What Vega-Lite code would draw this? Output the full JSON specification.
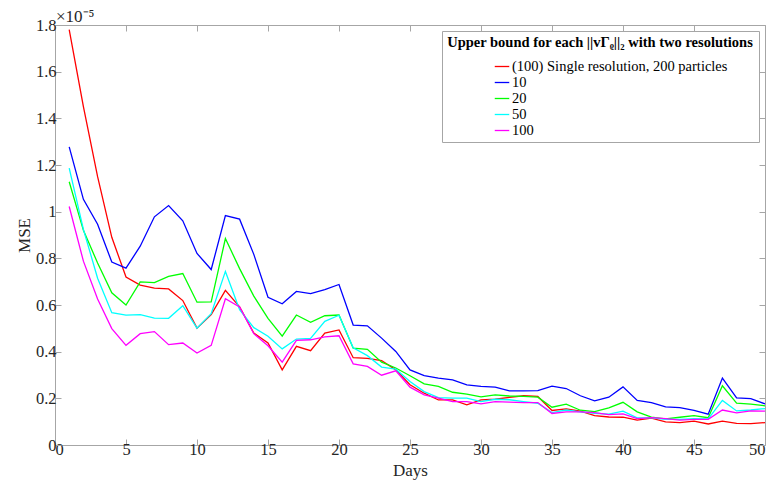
{
  "$schema": "https://vega.github.io/schema/vega-lite/v6.json",
  "width": 710,
  "height": 420,
  "autosize": "none",
  "padding": {"left": 55, "top": 25, "right": 9, "bottom": 42},
  "config": {
    "font": "Liberation Serif",
    "view": {"stroke": "#a6a6a6", "strokeWidth": 1},
    "axis": {
      "grid": false,
      "domainColor": "#a6a6a6",
      "tickColor": "#a6a6a6",
      "labelColor": "#262626",
      "titleColor": "#262626",
      "labelFont": "Liberation Serif",
      "titleFont": "Liberation Serif",
      "labelFontSize": 16,
      "titleFontSize": 16,
      "titleFontWeight": "normal",
      "tickSize": -6
    }
  },
  "title": {"text": "×10⁻⁵", "anchor": "start", "frame": "group", "fontSize": 17, "fontWeight": "normal", "font": "Liberation Serif", "color": "#262626", "offset": -9, "dx": 1},
  "data": {"values": [
    {"day":1,"series":"(100) Single resolution, 200 particles","mse":1.78e-5},
    {"day":2,"series":"(100) Single resolution, 200 particles","mse":1.45e-5},
    {"day":3,"series":"(100) Single resolution, 200 particles","mse":1.15e-5},
    {"day":4,"series":"(100) Single resolution, 200 particles","mse":0.89e-5},
    {"day":5,"series":"(100) Single resolution, 200 particles","mse":0.72e-5},
    {"day":6,"series":"(100) Single resolution, 200 particles","mse":0.685e-5},
    {"day":7,"series":"(100) Single resolution, 200 particles","mse":0.672e-5},
    {"day":8,"series":"(100) Single resolution, 200 particles","mse":0.669e-5},
    {"day":9,"series":"(100) Single resolution, 200 particles","mse":0.619e-5},
    {"day":10,"series":"(100) Single resolution, 200 particles","mse":0.501e-5},
    {"day":11,"series":"(100) Single resolution, 200 particles","mse":0.559e-5},
    {"day":12,"series":"(100) Single resolution, 200 particles","mse":0.663e-5},
    {"day":13,"series":"(100) Single resolution, 200 particles","mse":0.592e-5},
    {"day":14,"series":"(100) Single resolution, 200 particles","mse":0.48e-5},
    {"day":15,"series":"(100) Single resolution, 200 particles","mse":0.437e-5},
    {"day":16,"series":"(100) Single resolution, 200 particles","mse":0.322e-5},
    {"day":17,"series":"(100) Single resolution, 200 particles","mse":0.423e-5},
    {"day":18,"series":"(100) Single resolution, 200 particles","mse":0.404e-5},
    {"day":19,"series":"(100) Single resolution, 200 particles","mse":0.48e-5},
    {"day":20,"series":"(100) Single resolution, 200 particles","mse":0.493e-5},
    {"day":21,"series":"(100) Single resolution, 200 particles","mse":0.374e-5},
    {"day":22,"series":"(100) Single resolution, 200 particles","mse":0.371e-5},
    {"day":23,"series":"(100) Single resolution, 200 particles","mse":0.362e-5},
    {"day":24,"series":"(100) Single resolution, 200 particles","mse":0.322e-5},
    {"day":25,"series":"(100) Single resolution, 200 particles","mse":0.258e-5},
    {"day":26,"series":"(100) Single resolution, 200 particles","mse":0.222e-5},
    {"day":27,"series":"(100) Single resolution, 200 particles","mse":0.193e-5},
    {"day":28,"series":"(100) Single resolution, 200 particles","mse":0.193e-5},
    {"day":29,"series":"(100) Single resolution, 200 particles","mse":0.172e-5},
    {"day":30,"series":"(100) Single resolution, 200 particles","mse":0.193e-5},
    {"day":31,"series":"(100) Single resolution, 200 particles","mse":0.196e-5},
    {"day":32,"series":"(100) Single resolution, 200 particles","mse":0.204e-5},
    {"day":33,"series":"(100) Single resolution, 200 particles","mse":0.211e-5},
    {"day":34,"series":"(100) Single resolution, 200 particles","mse":0.208e-5},
    {"day":35,"series":"(100) Single resolution, 200 particles","mse":0.148e-5},
    {"day":36,"series":"(100) Single resolution, 200 particles","mse":0.155e-5},
    {"day":37,"series":"(100) Single resolution, 200 particles","mse":0.145e-5},
    {"day":38,"series":"(100) Single resolution, 200 particles","mse":0.126e-5},
    {"day":39,"series":"(100) Single resolution, 200 particles","mse":0.12e-5},
    {"day":40,"series":"(100) Single resolution, 200 particles","mse":0.119e-5},
    {"day":41,"series":"(100) Single resolution, 200 particles","mse":0.107e-5},
    {"day":42,"series":"(100) Single resolution, 200 particles","mse":0.115e-5},
    {"day":43,"series":"(100) Single resolution, 200 particles","mse":0.099e-5},
    {"day":44,"series":"(100) Single resolution, 200 particles","mse":0.096e-5},
    {"day":45,"series":"(100) Single resolution, 200 particles","mse":0.102e-5},
    {"day":46,"series":"(100) Single resolution, 200 particles","mse":0.09e-5},
    {"day":47,"series":"(100) Single resolution, 200 particles","mse":0.102e-5},
    {"day":48,"series":"(100) Single resolution, 200 particles","mse":0.093e-5},
    {"day":49,"series":"(100) Single resolution, 200 particles","mse":0.092e-5},
    {"day":50,"series":"(100) Single resolution, 200 particles","mse":0.096e-5},
    {"day":1,"series":"10","mse":1.278e-5},
    {"day":2,"series":"10","mse":1.053e-5},
    {"day":3,"series":"10","mse":0.946e-5},
    {"day":4,"series":"10","mse":0.784e-5},
    {"day":5,"series":"10","mse":0.758e-5},
    {"day":6,"series":"10","mse":0.852e-5},
    {"day":7,"series":"10","mse":0.978e-5},
    {"day":8,"series":"10","mse":1.026e-5},
    {"day":9,"series":"10","mse":0.961e-5},
    {"day":10,"series":"10","mse":0.821e-5},
    {"day":11,"series":"10","mse":0.752e-5},
    {"day":12,"series":"10","mse":0.983e-5},
    {"day":13,"series":"10","mse":0.968e-5},
    {"day":14,"series":"10","mse":0.817e-5},
    {"day":15,"series":"10","mse":0.633e-5},
    {"day":16,"series":"10","mse":0.605e-5},
    {"day":17,"series":"10","mse":0.658e-5},
    {"day":18,"series":"10","mse":0.649e-5},
    {"day":19,"series":"10","mse":0.666e-5},
    {"day":20,"series":"10","mse":0.688e-5},
    {"day":21,"series":"10","mse":0.514e-5},
    {"day":22,"series":"10","mse":0.511e-5},
    {"day":23,"series":"10","mse":0.458e-5},
    {"day":24,"series":"10","mse":0.401e-5},
    {"day":25,"series":"10","mse":0.322e-5},
    {"day":26,"series":"10","mse":0.297e-5},
    {"day":27,"series":"10","mse":0.287e-5},
    {"day":28,"series":"10","mse":0.279e-5},
    {"day":29,"series":"10","mse":0.258e-5},
    {"day":30,"series":"10","mse":0.251e-5},
    {"day":31,"series":"10","mse":0.248e-5},
    {"day":32,"series":"10","mse":0.232e-5},
    {"day":33,"series":"10","mse":0.232e-5},
    {"day":34,"series":"10","mse":0.233e-5},
    {"day":35,"series":"10","mse":0.252e-5},
    {"day":36,"series":"10","mse":0.242e-5},
    {"day":37,"series":"10","mse":0.211e-5},
    {"day":38,"series":"10","mse":0.189e-5},
    {"day":39,"series":"10","mse":0.205e-5},
    {"day":40,"series":"10","mse":0.249e-5},
    {"day":41,"series":"10","mse":0.191e-5},
    {"day":42,"series":"10","mse":0.182e-5},
    {"day":43,"series":"10","mse":0.163e-5},
    {"day":44,"series":"10","mse":0.16e-5},
    {"day":45,"series":"10","mse":0.148e-5},
    {"day":46,"series":"10","mse":0.132e-5},
    {"day":47,"series":"10","mse":0.287e-5},
    {"day":48,"series":"10","mse":0.202e-5},
    {"day":49,"series":"10","mse":0.199e-5},
    {"day":50,"series":"10","mse":0.176e-5},
    {"day":1,"series":"20","mse":1.128e-5},
    {"day":2,"series":"20","mse":0.92e-5},
    {"day":3,"series":"20","mse":0.78e-5},
    {"day":4,"series":"20","mse":0.652e-5},
    {"day":5,"series":"20","mse":0.6e-5},
    {"day":6,"series":"20","mse":0.699e-5},
    {"day":7,"series":"20","mse":0.696e-5},
    {"day":8,"series":"20","mse":0.723e-5},
    {"day":9,"series":"20","mse":0.735e-5},
    {"day":10,"series":"20","mse":0.612e-5},
    {"day":11,"series":"20","mse":0.613e-5},
    {"day":12,"series":"20","mse":0.885e-5},
    {"day":13,"series":"20","mse":0.756e-5},
    {"day":14,"series":"20","mse":0.638e-5},
    {"day":15,"series":"20","mse":0.543e-5},
    {"day":16,"series":"20","mse":0.467e-5},
    {"day":17,"series":"20","mse":0.557e-5},
    {"day":18,"series":"20","mse":0.526e-5},
    {"day":19,"series":"20","mse":0.554e-5},
    {"day":20,"series":"20","mse":0.557e-5},
    {"day":21,"series":"20","mse":0.415e-5},
    {"day":22,"series":"20","mse":0.41e-5},
    {"day":23,"series":"20","mse":0.355e-5},
    {"day":24,"series":"20","mse":0.33e-5},
    {"day":25,"series":"20","mse":0.297e-5},
    {"day":26,"series":"20","mse":0.262e-5},
    {"day":27,"series":"20","mse":0.251e-5},
    {"day":28,"series":"20","mse":0.226e-5},
    {"day":29,"series":"20","mse":0.218e-5},
    {"day":30,"series":"20","mse":0.206e-5},
    {"day":31,"series":"20","mse":0.215e-5},
    {"day":32,"series":"20","mse":0.21e-5},
    {"day":33,"series":"20","mse":0.208e-5},
    {"day":34,"series":"20","mse":0.205e-5},
    {"day":35,"series":"20","mse":0.162e-5},
    {"day":36,"series":"20","mse":0.175e-5},
    {"day":37,"series":"20","mse":0.149e-5},
    {"day":38,"series":"20","mse":0.143e-5},
    {"day":39,"series":"20","mse":0.159e-5},
    {"day":40,"series":"20","mse":0.183e-5},
    {"day":41,"series":"20","mse":0.142e-5},
    {"day":42,"series":"20","mse":0.119e-5},
    {"day":43,"series":"20","mse":0.112e-5},
    {"day":44,"series":"20","mse":0.119e-5},
    {"day":45,"series":"20","mse":0.126e-5},
    {"day":46,"series":"20","mse":0.117e-5},
    {"day":47,"series":"20","mse":0.254e-5},
    {"day":48,"series":"20","mse":0.179e-5},
    {"day":49,"series":"20","mse":0.175e-5},
    {"day":50,"series":"20","mse":0.168e-5},
    {"day":1,"series":"50","mse":1.187e-5},
    {"day":2,"series":"50","mse":0.924e-5},
    {"day":3,"series":"50","mse":0.715e-5},
    {"day":4,"series":"50","mse":0.567e-5},
    {"day":5,"series":"50","mse":0.557e-5},
    {"day":6,"series":"50","mse":0.559e-5},
    {"day":7,"series":"50","mse":0.544e-5},
    {"day":8,"series":"50","mse":0.543e-5},
    {"day":9,"series":"50","mse":0.597e-5},
    {"day":10,"series":"50","mse":0.501e-5},
    {"day":11,"series":"50","mse":0.563e-5},
    {"day":12,"series":"50","mse":0.744e-5},
    {"day":13,"series":"50","mse":0.58e-5},
    {"day":14,"series":"50","mse":0.503e-5},
    {"day":15,"series":"50","mse":0.466e-5},
    {"day":16,"series":"50","mse":0.412e-5},
    {"day":17,"series":"50","mse":0.454e-5},
    {"day":18,"series":"50","mse":0.457e-5},
    {"day":19,"series":"50","mse":0.53e-5},
    {"day":20,"series":"50","mse":0.556e-5},
    {"day":21,"series":"50","mse":0.417e-5},
    {"day":22,"series":"50","mse":0.383e-5},
    {"day":23,"series":"50","mse":0.334e-5},
    {"day":24,"series":"50","mse":0.325e-5},
    {"day":25,"series":"50","mse":0.272e-5},
    {"day":26,"series":"50","mse":0.229e-5},
    {"day":27,"series":"50","mse":0.203e-5},
    {"day":28,"series":"50","mse":0.201e-5},
    {"day":29,"series":"50","mse":0.201e-5},
    {"day":30,"series":"50","mse":0.186e-5},
    {"day":31,"series":"50","mse":0.196e-5},
    {"day":32,"series":"50","mse":0.194e-5},
    {"day":33,"series":"50","mse":0.186e-5},
    {"day":34,"series":"50","mse":0.179e-5},
    {"day":35,"series":"50","mse":0.139e-5},
    {"day":36,"series":"50","mse":0.15e-5},
    {"day":37,"series":"50","mse":0.142e-5},
    {"day":38,"series":"50","mse":0.136e-5},
    {"day":39,"series":"50","mse":0.132e-5},
    {"day":40,"series":"50","mse":0.145e-5},
    {"day":41,"series":"50","mse":0.116e-5},
    {"day":42,"series":"50","mse":0.116e-5},
    {"day":43,"series":"50","mse":0.11e-5},
    {"day":44,"series":"50","mse":0.11e-5},
    {"day":45,"series":"50","mse":0.113e-5},
    {"day":46,"series":"50","mse":0.112e-5},
    {"day":47,"series":"50","mse":0.191e-5},
    {"day":48,"series":"50","mse":0.146e-5},
    {"day":49,"series":"50","mse":0.15e-5},
    {"day":50,"series":"50","mse":0.156e-5},
    {"day":1,"series":"100","mse":1.022e-5},
    {"day":2,"series":"100","mse":0.788e-5},
    {"day":3,"series":"100","mse":0.626e-5},
    {"day":4,"series":"100","mse":0.499e-5},
    {"day":5,"series":"100","mse":0.427e-5},
    {"day":6,"series":"100","mse":0.477e-5},
    {"day":7,"series":"100","mse":0.486e-5},
    {"day":8,"series":"100","mse":0.43e-5},
    {"day":9,"series":"100","mse":0.437e-5},
    {"day":10,"series":"100","mse":0.394e-5},
    {"day":11,"series":"100","mse":0.427e-5},
    {"day":12,"series":"100","mse":0.627e-5},
    {"day":13,"series":"100","mse":0.592e-5},
    {"day":14,"series":"100","mse":0.477e-5},
    {"day":15,"series":"100","mse":0.425e-5},
    {"day":16,"series":"100","mse":0.355e-5},
    {"day":17,"series":"100","mse":0.448e-5},
    {"day":18,"series":"100","mse":0.451e-5},
    {"day":19,"series":"100","mse":0.463e-5},
    {"day":20,"series":"100","mse":0.468e-5},
    {"day":21,"series":"100","mse":0.348e-5},
    {"day":22,"series":"100","mse":0.337e-5},
    {"day":23,"series":"100","mse":0.299e-5},
    {"day":24,"series":"100","mse":0.318e-5},
    {"day":25,"series":"100","mse":0.248e-5},
    {"day":26,"series":"100","mse":0.215e-5},
    {"day":27,"series":"100","mse":0.201e-5},
    {"day":28,"series":"100","mse":0.186e-5},
    {"day":29,"series":"100","mse":0.186e-5},
    {"day":30,"series":"100","mse":0.176e-5},
    {"day":31,"series":"100","mse":0.186e-5},
    {"day":32,"series":"100","mse":0.184e-5},
    {"day":33,"series":"100","mse":0.182e-5},
    {"day":34,"series":"100","mse":0.182e-5},
    {"day":35,"series":"100","mse":0.135e-5},
    {"day":36,"series":"100","mse":0.142e-5},
    {"day":37,"series":"100","mse":0.142e-5},
    {"day":38,"series":"100","mse":0.139e-5},
    {"day":39,"series":"100","mse":0.13e-5},
    {"day":40,"series":"100","mse":0.133e-5},
    {"day":41,"series":"100","mse":0.113e-5},
    {"day":42,"series":"100","mse":0.117e-5},
    {"day":43,"series":"100","mse":0.113e-5},
    {"day":44,"series":"100","mse":0.107e-5},
    {"day":45,"series":"100","mse":0.11e-5},
    {"day":46,"series":"100","mse":0.11e-5},
    {"day":47,"series":"100","mse":0.15e-5},
    {"day":48,"series":"100","mse":0.138e-5},
    {"day":49,"series":"100","mse":0.146e-5},
    {"day":50,"series":"100","mse":0.145e-5}
  ]},
  "layer": [
    {
      "mark": {"type": "line", "strokeWidth": 1.3},
      "encoding": {
        "x": {"field": "day", "type": "quantitative", "title": "Days",
              "scale": {"domain": [0, 50], "nice": false, "zero": false},
              "axis": {"values": [0,5,10,15,20,25,30,35,40,45,50], "labelPadding": 2, "titlePadding": 5, "domain": false,
                       "labelFont": "Liberation Serif", "labelFontSize": 16.5, "titleFont": "Liberation Serif", "titleFontSize": 17}},
        "y": {"field": "mse", "type": "quantitative", "title": "MSE",
              "scale": {"domain": [0, 1.8e-5], "nice": false},
              "axis": {"values": [0,2e-6,4e-6,6e-6,8e-6,1e-5,1.2e-5,1.4e-5,1.6e-5,1.8e-5],
                       "labelExpr": "format(datum.value*1e5, '.2~g')", "labelPadding": 5, "titlePadding": 2, "domain": false,
                       "labelFont": "Liberation Serif", "labelFontSize": 16.5, "titleFont": "Liberation Serif", "titleFontSize": 17}},
        "color": {"field": "series", "type": "nominal",
                  "scale": {"domain": ["(100) Single resolution, 200 particles","10","20","50","100"],
                            "range": ["#ff0000","#0000ff","#00ff00","#00ffff","#ff00ff"]},
                  "legend": {
                    "title": "Upper bound for each ||vΓᵨ||₂ with two resolutions",
                    "orient": "top-right", "offset": 6,
                    "titleFont": "Liberation Serif", "titleFontWeight": "bold", "titleFontSize": 14.5, "titleColor": "#000000",
                    "titleAnchor": "middle", "titlePadding": 8, "titleLimit": 600,
                    "labelFont": "Liberation Serif", "labelFontSize": 14.5, "labelColor": "#000000", "labelOffset": 2, "labelLimit": 600,
                    "strokeColor": "#a6a6a6", "fillColor": "#ffffff", "padding": 5,
                    "symbolType": "stroke", "symbolSize": 210, "symbolStrokeWidth": 1.3, "symbolOffset": 22,
                    "rowPadding": 1
                  }}
      }
    },
    {
      "mark": {"type": "line", "opacity": 0},
      "encoding": {
        "x": {"field": "day", "type": "quantitative",
              "axis": {"orient": "top", "values": [0,5,10,15,20,25,30,35,40,45,50], "labels": false, "title": null, "domain": false}},
        "y": {"field": "mse", "type": "quantitative",
              "axis": {"orient": "right", "values": [0,2e-6,4e-6,6e-6,8e-6,1e-5,1.2e-5,1.4e-5,1.6e-5,1.8e-5], "labels": false, "title": null, "domain": false}},
        "detail": {"field": "series"}
      }
    }
  ],
  "resolve": {"axis": {"x": "independent", "y": "independent"}}
}
